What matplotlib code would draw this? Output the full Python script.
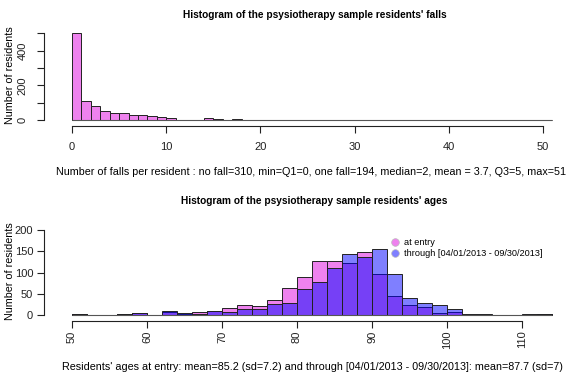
import numpy as np
import matplotlib
matplotlib.use('Agg')
from matplotlib import pyplot as plt
from matplotlib.lines import Line2D

plt.rcParams['font.family'] = ['Liberation Sans', 'DejaVu Sans']

# falls per resident, bins of width 1 from 0 to 51
fall_edges = np.arange(0, 52, 1)
fall_counts = [504, 110, 78, 50, 41, 41, 26, 26, 21, 17,
               11, 2, 2, 2, 10, 7, 2, 6, 1, 1,
               1, 1, 1, 1, 1, 1, 0, 1, 1, 0,
               1, 1, 0, 1, 0, 0, 0, 0, 0, 0,
               0, 0, 1, 0, 0, 0, 0, 0, 1, 0,
               1]

# ages, bins of width 2 from 50 to 114
age_edges = np.arange(50, 116, 2)
age_entry = [3, 1, 1, 2, 6, 1, 8, 3, 8, 10,
             16, 23, 21, 37, 64, 89, 128, 128, 123, 148,
             96, 45, 23, 19, 6, 7, 1, 1, 0, 0,
             1, 2]
age_through = [2, 1, 1, 2, 5, 1, 9, 5, 4, 9,
               8, 15, 14, 27, 28, 61, 77, 112, 143, 136,
               155, 98, 41, 30, 23, 15, 3, 2, 0, 0,
               2, 3]

title_falls = "Histogram of the psysiotherapy sample residents' falls"
title_ages = "Histogram of the psysiotherapy sample residents' ages"
xlab_falls = ("Number of falls per resident : no fall=310, min=Q1=0, one fall=194, "
              "median=2, mean = 3.7, Q3=5, max=51")
xlab_ages = ("Residents' ages at entry: mean=85.2 (sd=7.2) and through "
             "[04/01/2013 - 09/30/2013]: mean=87.7 (sd=7)")
legend_labels = ['at entry', 'through [04/01/2013 - 09/30/2013]']

pink = '#EE82EE'
blue = (0, 0, 1, 0.5)
edge = '#222222'
fs = 7.75
tfs = 8.0

fig = plt.figure(figsize=(5.67, 3.74), dpi=100)
W, H = 567, 374


def r_axes(ax, xb, yb):
    for s in ['top', 'right']:
        ax.spines[s].set_visible(False)
    ax.spines['left'].set_position(('outward', 20))
    ax.spines['bottom'].set_position(('outward', 4))
    ax.spines['left'].set_bounds(*yb)
    ax.spines['bottom'].set_bounds(*xb)
    for s in ['left', 'bottom']:
        ax.spines[s].set_color(edge)
        ax.spines[s].set_linewidth(0.8)
    ax.tick_params(length=5, width=0.8, color=edge, labelsize=tfs, labelcolor='#222222')


# top: falls
ax1 = fig.add_axes([72 / W, 1 - 120 / H, (557 - 72) / W, (120 - 30.7) / H])
ax1.hlines(0, fall_edges[0], fall_edges[-1], color='#555555', linewidth=0.8, clip_on=False)
ax1.bar(fall_edges[:-1], fall_counts, width=1, align='edge', color=pink,
        edgecolor=edge, linewidth=0.7, clip_on=False)
ax1.set_xlim(0, 51.5)
ax1.set_ylim(0, 515)
r_axes(ax1, (0, 50), (0, 500))
ax1.set_xticks(np.arange(0, 51, 10))
ax1.set_yticks(np.arange(0, 501, 100))
ax1.set_yticklabels(['0', '', '200', '', '400', ''], rotation=90, va='center')
ax1.tick_params(axis='x', pad=7)
ax1.tick_params(axis='y', pad=7)
ax1.set_title(title_falls, fontsize=7.3, fontweight='bold', pad=9)
ax1.set_xlabel(xlab_falls, fontsize=fs, labelpad=11)
ax1.xaxis.label.set_x(0.492)
ax1.set_ylabel('Number of residents', fontsize=fs, labelpad=2)

# bottom: ages
ax2 = fig.add_axes([72 / W, 1 - 315.3 / H, 483.75 / W, (315.3 - 226.6) / H])
ax2.hlines(0, age_edges[0], age_edges[-1], color='#555555', linewidth=0.8, clip_on=False)
ax2.bar(age_edges[:-1], age_entry, width=2, align='edge', color=pink,
        edgecolor=edge, linewidth=0.7, clip_on=False)
ax2.bar(age_edges[:-1], age_through, width=2, align='edge', color=blue,
        edgecolor=edge, linewidth=0.7, clip_on=False)
ax2.set_xlim(50, 114.5)
ax2.set_ylim(0, 208)
r_axes(ax2, (50, 110), (0, 200))
ax2.set_xticks(np.arange(50, 111, 10))
ax2.set_yticks(np.arange(0, 201, 50))
ax2.tick_params(axis='x', labelrotation=90, pad=2)
ax2.tick_params(axis='y', pad=3)
ax2.set_title(title_ages, fontsize=7.3, fontweight='bold', pad=16)
ax2.set_xlabel(xlab_ages, fontsize=fs, labelpad=9)
ax2.xaxis.label.set_x(0.497)
ax2.set_ylabel('Number of residents', fontsize=fs, labelpad=0)

handles = [Line2D([], [], linestyle='none', marker='o', markersize=5.5,
                  markerfacecolor=pink, markeredgecolor='#bbbbbb', markeredgewidth=0.5),
           Line2D([], [], linestyle='none', marker='o', markersize=5.5,
                  markerfacecolor=blue, markeredgecolor='#bbbbbb', markeredgewidth=0.5)]
ax2.legend(handles, legend_labels, loc='upper left', bbox_to_anchor=(0.661, 0.867),
           frameon=False, fontsize=6.55, handlelength=0.8, handletextpad=0.5,
           labelspacing=0.15, borderpad=0, borderaxespad=0)

fig.savefig('out.png', dpi=100)
